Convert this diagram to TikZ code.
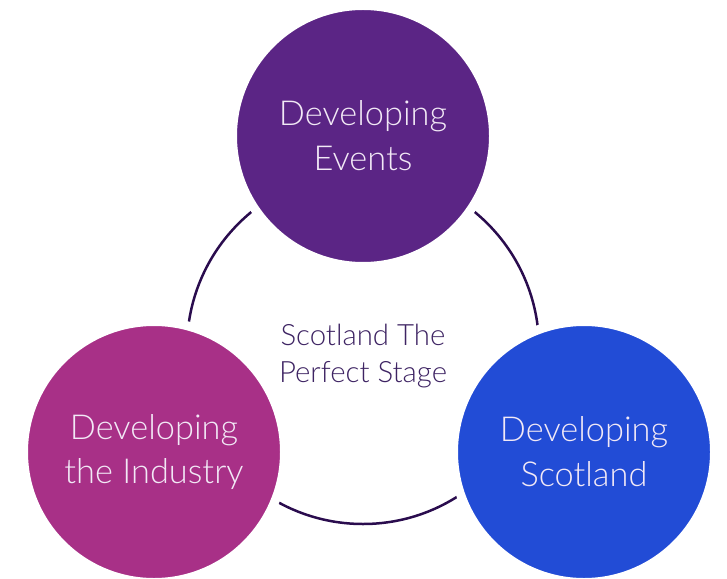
\documentclass[tikz,border=0pt]{standalone}
\usepackage{fontspec}
\newfontfamily\lightfont{Lato Light}
\begin{document}
\begin{tikzpicture}[x=1bp,y=-1bp]
\definecolor{ring}{HTML}{2A0C4E}
\definecolor{evc}{HTML}{5B2585}
\definecolor{inc}{HTML}{A83087}
\definecolor{scc}{HTML}{224CD6}
\definecolor{txtw}{HTML}{F2E9F6}
\definecolor{ctxt}{HTML}{3E2463}
\tikzset{
  bubble/.style={circle, minimum size=261bp, inner sep=0pt,
    draw=white, line width=9bp, fill=#1},
  btext/.style={text=txtw, font=\lightfont\fontsize{34.5}{45}\selectfont, align=center},
  centre/.style={text=ctxt, font=\lightfont\fontsize{29.5}{37}\selectfont, align=center}
}
\useasboundingbox (0,0) rectangle (727,579);
\node[circle, minimum size=352bp, inner sep=0pt, draw=ring, line width=2.5bp] (ring) at (363,348) {};
\node[bubble=evc] (ev) at (363,136) {};
\node[bubble=inc] (in) at (154,452) {};
\node[bubble=scc] (sc) at (584,452) {};
\node[btext] (evt) at (ev.center) {Developing\\Events};
\node[btext] (int) at (in.center) {Developing\\the Industry};
\node[btext] (sct) at (sc.center) {Developing\\Scotland};
\node[centre] (ct) at (363,356) {Scotland The\\Perfect Stage};
\end{tikzpicture}
\end{document}
